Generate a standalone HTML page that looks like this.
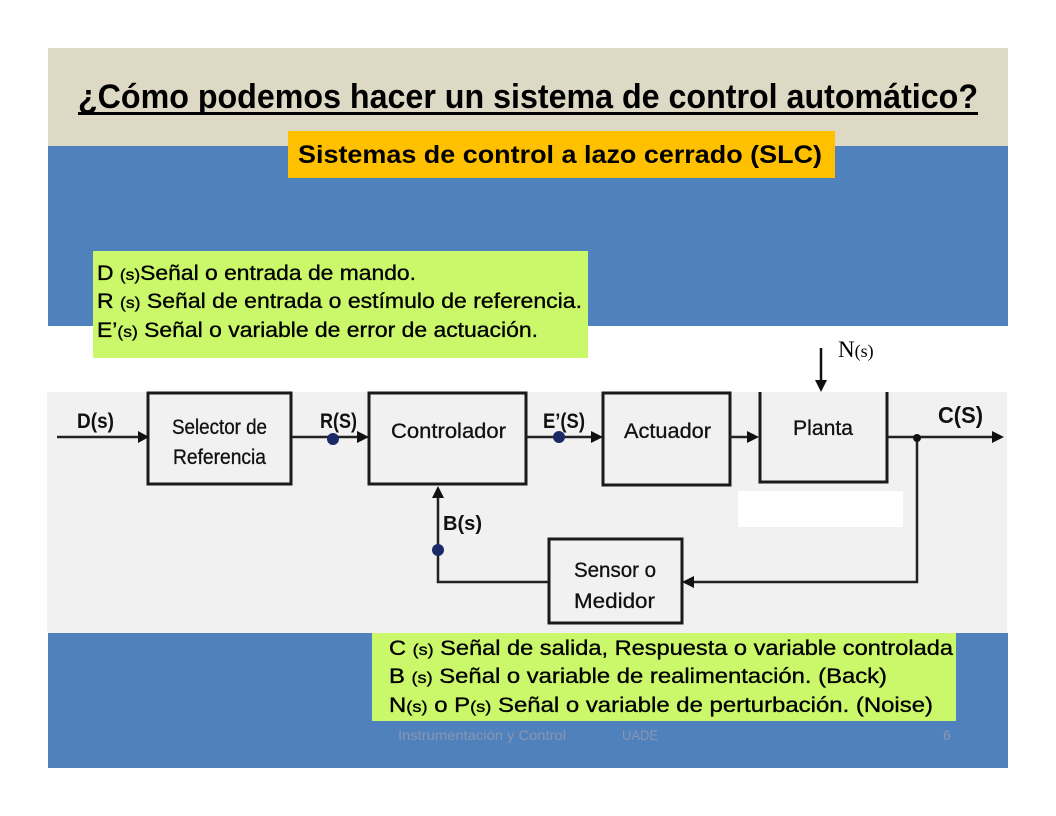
<!DOCTYPE html>
<html>
<head>
<meta charset="utf-8">
<style>
html,body{margin:0;padding:0;background:#fff;}
svg{display:block;}
</style>
</head>
<body>
<svg width="1056" height="816" viewBox="0 0 1056 816" xmlns="http://www.w3.org/2000/svg">
  <rect x="0" y="0" width="1056" height="816" fill="#ffffff"/>
  <rect x="48" y="48" width="960" height="98" fill="#ddd9c4"/>
  <rect x="48" y="146" width="960" height="180" fill="#4f81bd"/>
  <rect x="48" y="633" width="960" height="135" fill="#4f81bd"/>
  <rect x="47" y="392" width="960" height="241" fill="#f1f1f1"/>
  <rect x="738" y="491" width="165" height="36" fill="#ffffff"/>

  <!-- Title -->
  <text x="78" y="108" font-family="Liberation Sans, sans-serif" font-weight="bold" font-size="34" fill="#000" textLength="900" lengthAdjust="spacingAndGlyphs">¿Cómo podemos hacer un sistema de control automático?</text>
  <rect x="78" y="112" width="900" height="3" fill="#000"/>

  <!-- Orange box -->
  <rect x="288" y="131" width="547" height="47" fill="#ffc000"/>
  <text x="298" y="163" font-family="Liberation Sans, sans-serif" font-weight="bold" font-size="25" fill="#000" textLength="524" lengthAdjust="spacingAndGlyphs">Sistemas de control a lazo cerrado (SLC)</text>

  <!-- Green box 1 -->
  <rect x="93" y="251" width="495" height="107" fill="#cbf86a"/>
  <g font-family="Liberation Sans, Arial, sans-serif" fill="#000" stroke="#000" stroke-width="0.35">
    <text x="97" y="280" font-size="21" textLength="319" lengthAdjust="spacingAndGlyphs">D <tspan font-size="16">(s)</tspan>Señal o entrada de mando.</text>
    <text x="97" y="308" font-size="21" textLength="485" lengthAdjust="spacingAndGlyphs">R <tspan font-size="16">(s)</tspan>  Señal de entrada o estímulo de referencia.</text>
    <text x="97" y="337" font-size="21" textLength="441" lengthAdjust="spacingAndGlyphs">E’<tspan font-size="16">(s)</tspan>  Señal o variable de error de actuación.</text>
  </g>

  <!-- Green box 2 -->
  <rect x="372" y="633" width="584" height="88" fill="#cbf86a"/>
  <g font-family="Liberation Sans, Arial, sans-serif" fill="#000" stroke="#000" stroke-width="0.35">
    <text x="389" y="655" font-size="21" textLength="564" lengthAdjust="spacingAndGlyphs">C <tspan font-size="16">(s)</tspan>  Señal de salida, Respuesta o variable controlada</text>
    <text x="389" y="683" font-size="21" textLength="498" lengthAdjust="spacingAndGlyphs">B <tspan font-size="16">(s)</tspan>  Señal o variable de realimentación. (Back)</text>
    <text x="389" y="712" font-size="21" textLength="544" lengthAdjust="spacingAndGlyphs">N<tspan font-size="16">(s)</tspan>  o P<tspan font-size="16">(s)</tspan> Señal o variable de perturbación. (Noise)</text>
  </g>

  <!-- footer -->
  <g font-family="Liberation Sans, sans-serif" font-size="14" fill="#8a96b0">
    <text x="398" y="740" textLength="168" lengthAdjust="spacingAndGlyphs">Instrumentación y Control</text>
    <text x="622" y="740" textLength="36" lengthAdjust="spacingAndGlyphs">UADE</text>
    <text x="943" y="740">6</text>
  </g>

  <!-- N(s) -->
  <line x1="821" y1="348" x2="821" y2="384" stroke="#111" stroke-width="2.5"/>
  <polygon points="815,380 827,380 821,392" fill="#111"/>
  <text x="838" y="357" font-family="Liberation Serif, serif" font-size="23" fill="#000">N<tspan font-size="18">(s)</tspan></text>

  <!-- Blocks -->
  <g fill="none" stroke="#1a1a1a" stroke-width="3">
    <rect x="148" y="393" width="143" height="91"/>
    <rect x="369" y="393" width="157" height="91"/>
    <rect x="603" y="393" width="127" height="92"/>
    <path d="M760 392 V482 H887 V392"/>
    <rect x="549" y="539" width="133" height="84"/>
  </g>

  <!-- block labels -->
  <g font-family="Liberation Sans, sans-serif" font-size="21" fill="#111" stroke="#111" stroke-width="0.3">
    <text x="172" y="434" textLength="95" lengthAdjust="spacingAndGlyphs">Selector de</text>
    <text x="173" y="464" textLength="93" lengthAdjust="spacingAndGlyphs">Referencia</text>
    <text x="391" y="438" textLength="115" lengthAdjust="spacingAndGlyphs">Controlador</text>
    <text x="624" y="438" textLength="87" lengthAdjust="spacingAndGlyphs">Actuador</text>
    <text x="793" y="435" textLength="60" lengthAdjust="spacingAndGlyphs">Planta</text>
    <text x="574" y="577" textLength="82" lengthAdjust="spacingAndGlyphs">Sensor o</text>
    <text x="574" y="608" textLength="81" lengthAdjust="spacingAndGlyphs">Medidor</text>
  </g>

  <!-- connectors -->
  <g stroke="#222" stroke-width="2.5" fill="none">
    <line x1="57" y1="437" x2="140" y2="437"/>
    <line x1="291" y1="437" x2="360" y2="437"/>
    <line x1="526" y1="437" x2="594" y2="437"/>
    <line x1="730" y1="437" x2="750" y2="437"/>
    <line x1="887" y1="437" x2="994" y2="437"/>
    <polyline points="917,437 917,582 692,582"/>
    <polyline points="549,582 438,582 438,497"/>
  </g>
  <g fill="#111">
    <polygon points="138,431 138,443 149,437"/>
    <polygon points="357,431 357,443 369,437"/>
    <polygon points="591,431 591,443 603,437"/>
    <polygon points="747,431 747,443 759,437"/>
    <polygon points="992,431 992,443 1004,437"/>
    <polygon points="694,576 694,588 682,582"/>
    <polygon points="432,498 444,498 438,486"/>
    <circle cx="917" cy="438" r="4"/>
  </g>
  <g fill="#1b2a66">
    <circle cx="333" cy="439" r="6"/>
    <circle cx="559" cy="437" r="6"/>
    <circle cx="438" cy="550" r="6"/>
  </g>

  <!-- signal labels -->
  <g font-family="Liberation Sans, sans-serif" font-weight="bold" fill="#111">
    <text x="77" y="428" font-size="21" textLength="37" lengthAdjust="spacingAndGlyphs">D(s)</text>
    <text x="320" y="428" font-size="21" textLength="37" lengthAdjust="spacingAndGlyphs">R(S)</text>
    <text x="543" y="428" font-size="21" textLength="42" lengthAdjust="spacingAndGlyphs">E’(S)</text>
    <text x="443" y="530" font-size="20" textLength="39" lengthAdjust="spacingAndGlyphs">B(s)</text>
    <text x="938" y="423" font-size="23" textLength="45" lengthAdjust="spacingAndGlyphs">C(S)</text>
  </g>
</svg>
</body>
</html>
